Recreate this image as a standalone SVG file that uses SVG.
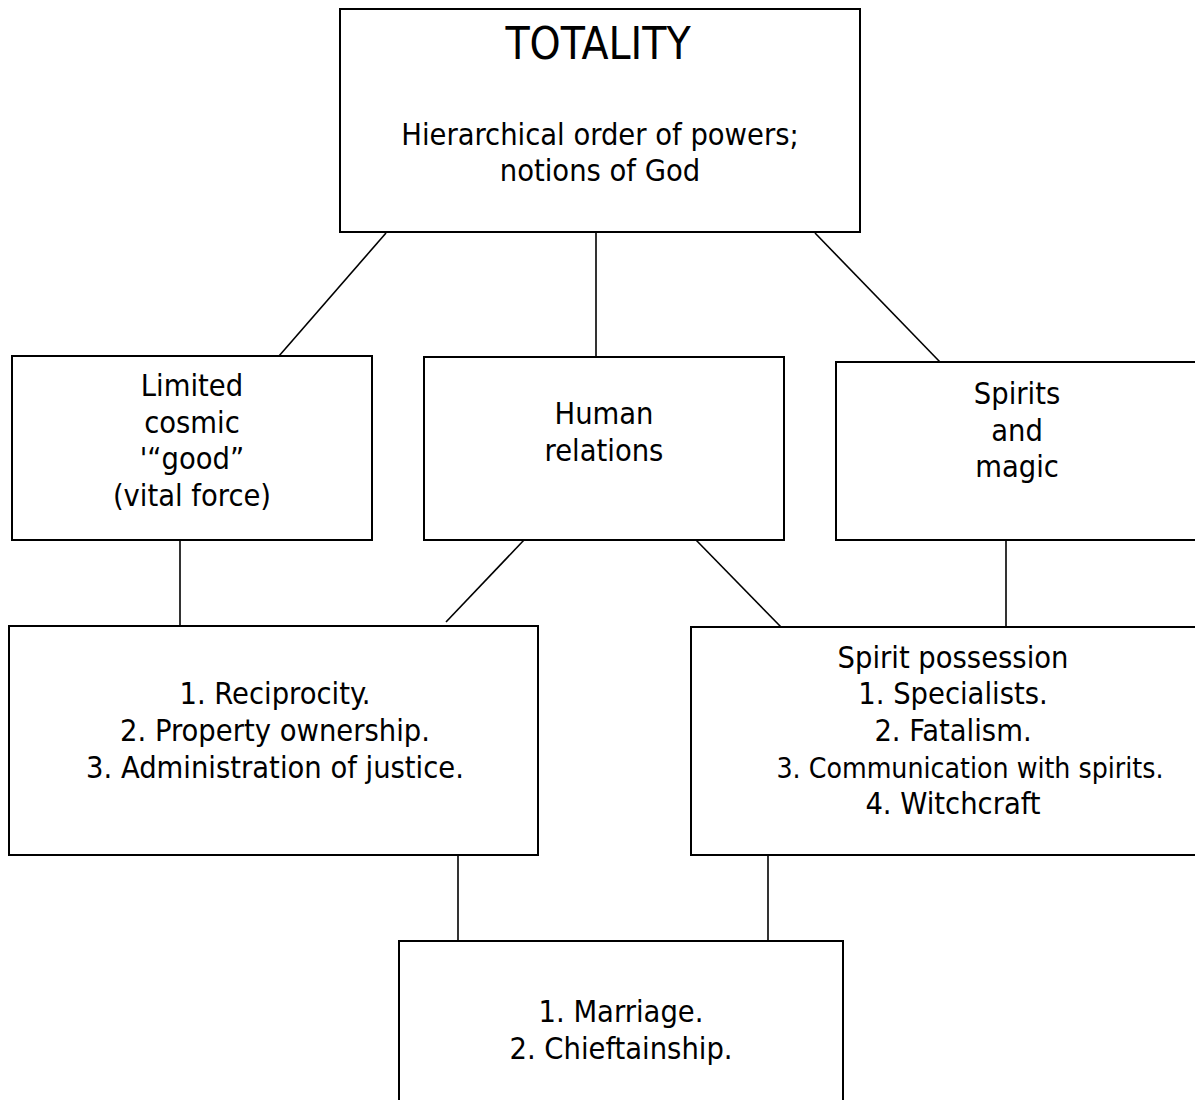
<svg xmlns="http://www.w3.org/2000/svg" width="1195" height="1100" viewBox="0 0 1195 1100">
<style>
.box{fill:#fff;stroke:#000;stroke-width:2}
.ln{stroke:#000;stroke-width:1.6;fill:none}
text{font-family:"DejaVu Sans Condensed","DejaVu Sans",sans-serif;font-size:30.5px;fill:#000;text-anchor:middle}
.big{font-size:44px}
.nar{font-size:28.2px}
</style>
<rect width="1195" height="1100" fill="#fff"/>
<g id="connectors">
<line class="ln" x1="386" y1="233" x2="279" y2="356"/>
<line class="ln" x1="596" y1="232" x2="596" y2="357"/>
<line class="ln" x1="815" y1="233" x2="940" y2="362"/>
<line class="ln" x1="180" y1="540" x2="180" y2="626"/>
<line class="ln" x1="524" y1="540" x2="446" y2="622"/>
<line class="ln" x1="696" y1="540" x2="781" y2="627"/>
<line class="ln" x1="1006" y1="540" x2="1006" y2="627"/>
<line class="ln" x1="458" y1="855" x2="458" y2="941"/>
<line class="ln" x1="768" y1="855" x2="768" y2="941"/>
</g>
<g id="totality">
<rect class="box" x="340" y="9" width="520" height="223"/>
<text class="big" x="598" y="59">TOTALITY</text>
<text x="600" y="145">Hierarchical order of powers;</text>
<text x="600" y="181">notions of God</text>
</g>
<g id="limited">
<rect class="box" x="12" y="356" width="360" height="184"/>
<text x="192" y="396">Limited</text>
<text x="192" y="433">cosmic</text>
<text x="192" y="469">'“good”</text>
<text x="192" y="506">(vital force)</text>
</g>
<g id="human">
<rect class="box" x="424" y="357" width="360" height="183"/>
<text x="604" y="424">Human</text>
<text x="604" y="461">relations</text>
</g>
<g id="spirits">
<rect class="box" x="836" y="362" width="361" height="178"/>
<text x="1017" y="404">Spirits</text>
<text x="1017" y="441">and</text>
<text x="1017" y="477">magic</text>
</g>
<g id="reciprocity">
<rect class="box" x="9" y="626" width="529" height="229"/>
<text x="275" y="704">1. Reciprocity.</text>
<text x="275" y="741">2. Property ownership.</text>
<text x="275" y="778">3. Administration of justice.</text>
</g>
<g id="possession">
<rect class="box" x="691" y="627" width="506" height="228"/>
<text x="953" y="668">Spirit possession</text>
<text x="953" y="704">1. Specialists.</text>
<text x="953" y="741">2. Fatalism.</text>
<text class="nar" x="970" y="778">3. Communication with spirits.</text>
<text x="953" y="814">4. Witchcraft</text>
</g>
<g id="marriage">
<rect class="box" x="399" y="941" width="444" height="180"/>
<text x="621" y="1022">1. Marriage.</text>
<text x="621" y="1059">2. Chieftainship.</text>
</g>
</svg>
